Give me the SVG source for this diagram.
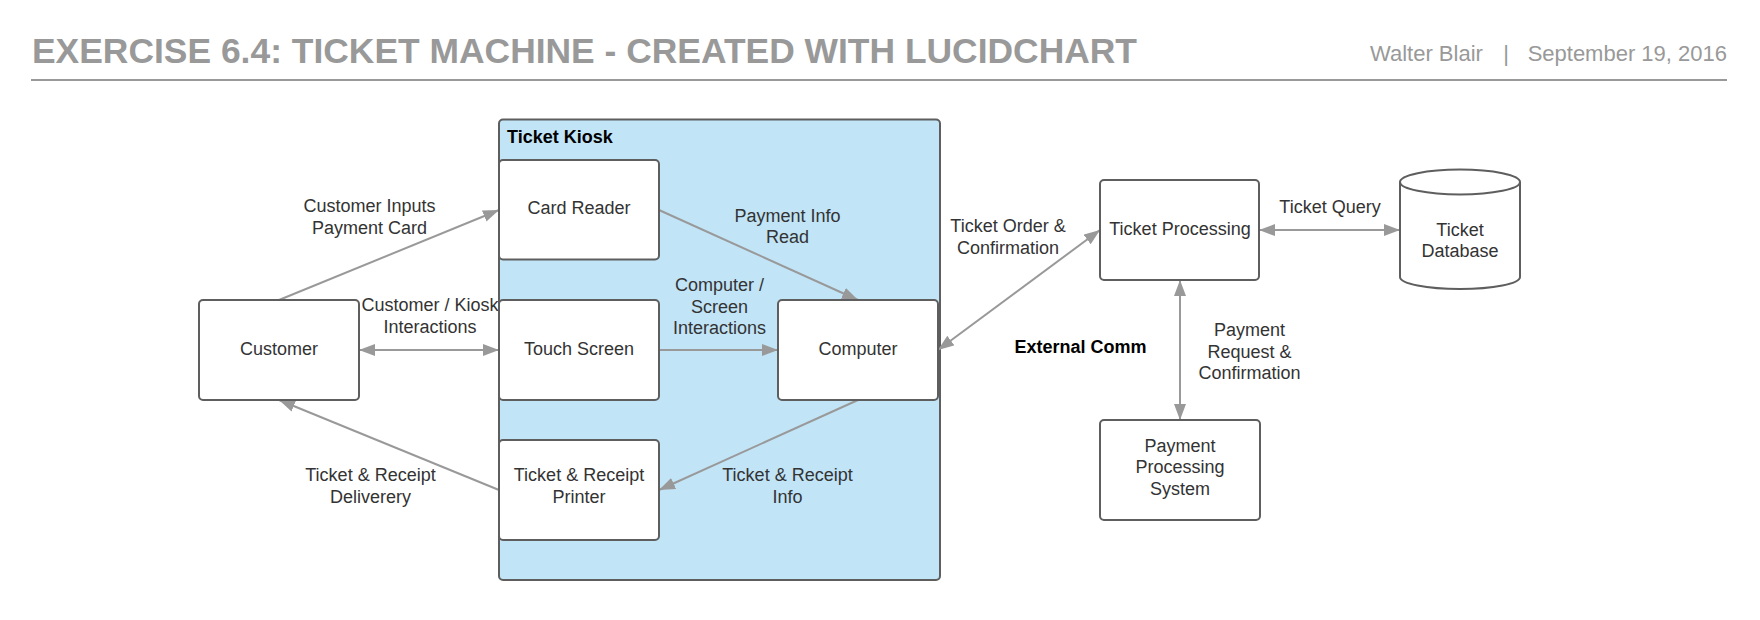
<svg xmlns="http://www.w3.org/2000/svg" width="1760" height="620" viewBox="0 0 1760 620">
<style>
.node{fill:#fff;stroke:#5e5e5e;stroke-width:2}
.lbl{font-family:"Liberation Sans",Arial,sans-serif;font-size:18px;fill:#333;text-anchor:middle}
.conn{stroke:#999;stroke-width:2;fill:none}
.hdr{font-family:"Liberation Sans",Arial,sans-serif;fill:#999}
.bold{font-family:"Liberation Sans",Arial,sans-serif;font-size:18px;font-weight:bold;fill:#000}
</style>
<defs>
<marker id="arr" markerUnits="userSpaceOnUse" markerWidth="18" markerHeight="14" viewBox="0 0 18 14" refX="16" refY="6" orient="auto-start-reverse">
<path d="M0,0 L16,6 L0,12 z" fill="#999"/>
</marker>
</defs>
<rect width="1760" height="620" fill="#fff"/>
<g id="header">
<text class="hdr" x="32" y="63" font-size="35" font-weight="bold" textLength="1105" lengthAdjust="spacingAndGlyphs">EXERCISE 6.4: TICKET MACHINE - CREATED WITH LUCIDCHART</text>
<text class="hdr" x="1370" y="61" font-size="22">Walter Blair</text>
<text class="hdr" x="1506" y="61" font-size="22" text-anchor="middle">|</text>
<text class="hdr" x="1727" y="61" font-size="22" text-anchor="end">September 19, 2016</text>
<line x1="31" y1="80" x2="1727" y2="80" stroke="#999" stroke-width="2"/>
</g>
<g id="ticket-kiosk">
<rect x="499" y="119.5" width="441" height="460.5" rx="4" fill="#c1e4f7" stroke="#5e5e5e" stroke-width="2"/>
<text class="bold" x="507" y="142.5">Ticket Kiosk</text>
</g>
<g id="connectors">
<line class="conn" x1="279" y1="300" x2="499" y2="210" marker-end="url(#arr)"/>
<line class="conn" x1="659" y1="210" x2="858" y2="300" marker-end="url(#arr)"/>
<line class="conn" x1="359" y1="350" x2="499" y2="350" marker-start="url(#arr)" marker-end="url(#arr)"/>
<line class="conn" x1="659" y1="350" x2="778" y2="350" marker-end="url(#arr)"/>
<line class="conn" x1="858" y1="400" x2="659" y2="490" marker-end="url(#arr)"/>
<line class="conn" x1="499" y1="490" x2="279" y2="400" marker-end="url(#arr)"/>
<line class="conn" x1="938" y1="350" x2="1100" y2="230" marker-start="url(#arr)" marker-end="url(#arr)"/>
<line class="conn" x1="1259" y1="230" x2="1400" y2="230" marker-start="url(#arr)" marker-end="url(#arr)"/>
<line class="conn" x1="1180" y1="280" x2="1180" y2="420" marker-start="url(#arr)" marker-end="url(#arr)"/>
</g>
<g id="connector-labels">
<text class="lbl" x="369.5" y="212">Customer Inputs</text>
<text class="lbl" x="369.5" y="233.5">Payment Card</text>
<text class="lbl" x="787.5" y="221.5">Payment Info</text>
<text class="lbl" x="787.5" y="243">Read</text>
<text class="lbl" x="430" y="311">Customer / Kiosk</text>
<text class="lbl" x="430" y="332.5">Interactions</text>
<text class="lbl" x="719.5" y="291">Computer /</text>
<text class="lbl" x="719.5" y="312.5">Screen</text>
<text class="lbl" x="719.5" y="334">Interactions</text>
<text class="lbl" x="787.5" y="481">Ticket &amp; Receipt</text>
<text class="lbl" x="787.5" y="502.5">Info</text>
<text class="lbl" x="370.5" y="481">Ticket &amp; Receipt</text>
<text class="lbl" x="370.5" y="502.5">Deliverery</text>
<text class="lbl" x="1008" y="232">Ticket Order &amp;</text>
<text class="lbl" x="1008" y="253.5">Confirmation</text>
<text class="lbl" x="1330" y="212.5">Ticket Query</text>
<text class="lbl" x="1249.5" y="336">Payment</text>
<text class="lbl" x="1249.5" y="357.5">Request &amp;</text>
<text class="lbl" x="1249.5" y="379">Confirmation</text>
</g>
<g id="external-comm">
<text class="bold" x="1080.5" y="352.5" text-anchor="middle">External Comm</text>
</g>
<g id="customer">
<rect class="node" x="199" y="300" width="160" height="100" rx="4"/>
<text class="lbl" x="279" y="354.5">Customer</text>
</g>
<g id="card-reader">
<rect class="node" x="499" y="160" width="160" height="99.5" rx="4"/>
<text class="lbl" x="579" y="214">Card Reader</text>
</g>
<g id="touch-screen">
<rect class="node" x="499" y="300" width="160" height="100" rx="4"/>
<text class="lbl" x="579" y="354.5">Touch Screen</text>
</g>
<g id="computer">
<rect class="node" x="778" y="300" width="160" height="100" rx="4"/>
<text class="lbl" x="858" y="354.5">Computer</text>
</g>
<g id="printer">
<rect class="node" x="499" y="440" width="160" height="100" rx="4"/>
<text class="lbl" x="579" y="481">Ticket &amp; Receipt</text>
<text class="lbl" x="579" y="502.5">Printer</text>
</g>
<g id="ticket-processing">
<rect class="node" x="1100" y="180" width="159" height="100" rx="4"/>
<text class="lbl" x="1180" y="234.5">Ticket Processing</text>
</g>
<g id="ticket-database">
<path class="node" d="M1400,182 L1400,277 A60,12 0 0 0 1520,277 L1520,182"/>
<ellipse class="node" cx="1460" cy="182" rx="60" ry="12.5"/>
<text class="lbl" x="1460" y="235.5">Ticket</text>
<text class="lbl" x="1460" y="256.5">Database</text>
</g>
<g id="payment-processing">
<rect class="node" x="1100" y="420" width="160" height="100" rx="4"/>
<text class="lbl" x="1180" y="451.5">Payment</text>
<text class="lbl" x="1180" y="473">Processing</text>
<text class="lbl" x="1180" y="494.5">System</text>
</g>
</svg>
